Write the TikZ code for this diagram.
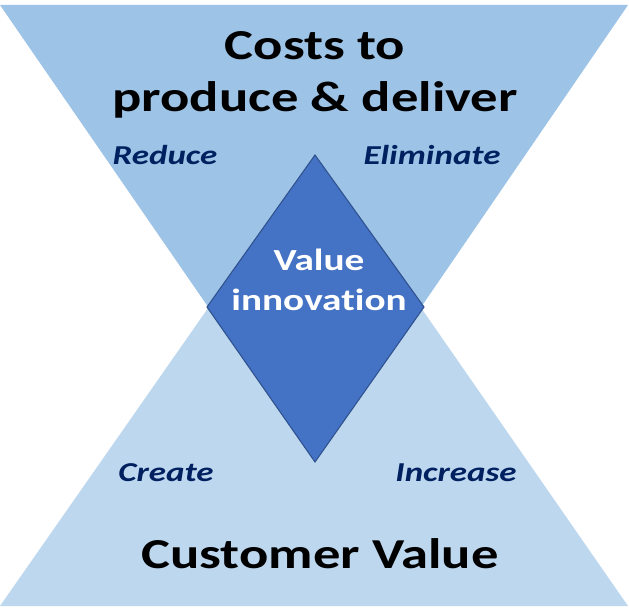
\documentclass[tikz,border=0pt]{standalone}
\usepackage{fontspec}
\setmainfont[FakeStretch=1.28,Ligatures=NoCommon]{Carlito}
\definecolor{costblue}{HTML}{9DC3E6}
\definecolor{valueblue}{HTML}{BDD7EE}
\definecolor{diamondblue}{HTML}{4472C4}
\definecolor{diamondline}{HTML}{2F528F}
\definecolor{navy}{HTML}{002060}
\begin{document}
\begin{tikzpicture}[x=0.75pt,y=-0.75pt]
\tikzstyle{title}=[inner sep=0pt,align=center,font=\fontsize{32}{39}\selectfont\bfseries,text=black]
\tikzstyle{action}=[inner sep=0pt,anchor=base,font=\fontsize{20.5}{24}\selectfont\bfseries\itshape,text=navy]
\useasboundingbox (0,0) rectangle (629,610);
% corners of the two triangles
\coordinate (TL) at (0,5);
\coordinate (TR) at (628,5);
\coordinate (BL) at (0,606);
\coordinate (BR) at (628,606);
% diamond
\coordinate (N) at (315,155);
\coordinate (W) at (207,307);
\coordinate (E) at (424,307);
\coordinate (S) at (315,462);
\fill[valueblue] (BL) -- (BR) -- (N) -- cycle;
\fill[costblue] (TL) -- (TR) -- (S) -- cycle;
\draw[fill=diamondblue,draw=diamondline,line width=0.8pt,line join=miter] (N) -- (E) -- (S) -- (W) -- cycle;
\node[title] (costs) at (315,75) {Costs to\\produce \& deliver};
\node[title,anchor=base] (customer) at (320,568) {Customer Value};
\node[inner sep=0pt,align=center,text=white,font=\fontsize{23}{30}\selectfont\bfseries] (innov) at (319,280) {Value\\innovation};
\node[action] (reduce) at (165,165) {Reduce};
\node[action] (elim) at (432,165) {Eliminate};
\node[action] (create) at (166,481) {Create};
\node[action] (incr) at (456,481) {Increase};
\end{tikzpicture}
\end{document}
